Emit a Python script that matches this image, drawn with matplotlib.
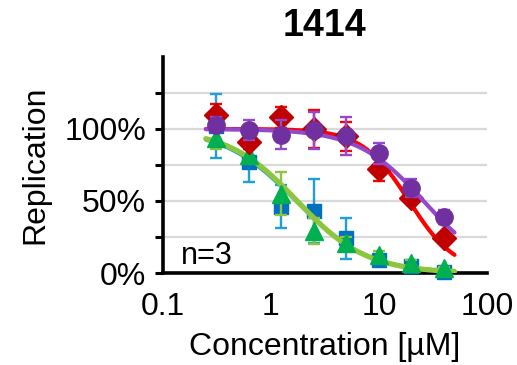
import matplotlib
matplotlib.use("Agg")
import matplotlib.pyplot as plt
import numpy as np
from matplotlib.ticker import FuncFormatter

plt.rcParams['font.family'] = ['Liberation Sans', 'DejaVu Sans']

conc = np.array([0.3125, 0.625, 1.25, 2.5, 5, 10, 20, 40])

blue_y = [102, 77, 46, 43, 24, 9, 5, 1]
blue_err = [22, 14, 15, 22, 14, 3, 2, 1]
green_y = [94, 82, 55, 29, 21, 12.5, 7, 3.5]
green_err = [8, 5, 15, 9, 4, 3, 2, 1]
red_y = [110, 91, 108, 100, 95, 72, 52, 24]
red_err = [7, 5, 7, 13, 10, 8, 4, 3]
purple_y = [103, 99, 96, 99, 95, 83, 59, 39]
purple_err = [5, 7, 10, 13, 13, 7, 6, 5]

# fitted dose-response parameters (top, bottom, IC50, hill)
fits = {
    'blue': (100, 0, 1.7, 1.3),
    'green': (100, 0, 1.75, 1.35),
    'red': (100, 0, 19, 2.0),
    'purple': (100, 0, 25.8, 1.42),
}

series = [
    ('blue', blue_y, blue_err, 's', '#0070C0', '#1E9FD8', 10.5, 2.5),
    ('green', green_y, green_err, '^', '#00B050', '#8CC63F', 13.5, 3.8),
    ('red', red_y, red_err, 'D', '#C00000', '#FF0000', 12, 3),
    ('purple', purple_y, purple_err, 'o', '#7030A0', '#9448CC', 12.5, 3),
]

fig = plt.figure(figsize=(5.17, 3.65), dpi=100)
ax = fig.add_axes([0.315, 0.252, 0.627, 0.592])

xfit = np.logspace(np.log10(0.25), np.log10(50), 200)
z = 3
for name, y, err, mk, mcol, lcol, ms, lw in series:
    top, bot, ic50, hill = fits[name]
    yfit = bot + (top - bot) / (1 + (xfit / ic50) ** hill)
    ax.errorbar(conc, y, yerr=err, fmt='none', ecolor=lcol, elinewidth=1.7,
                capsize=4, capthick=1.7, zorder=z)
    ax.plot(xfit, yfit, color=lcol, lw=lw, zorder=z + 1, solid_capstyle='round')
    ax.plot(conc, y, mk, color=mcol, ms=ms, mec=mcol, zorder=z + 2, clip_on=False)
    z += 3

ax.set_xscale('log')
ax.set_xlim(0.1, 100)
ax.set_ylim(0, 150)

ax.set_xticks([0.1, 1, 10, 100])
ax.set_xticklabels(['0.1', '1', '10', '100'])
ax.set_xticks([0.1, 10], minor=True)
ax.tick_params(axis='x', which='major', length=0, labelsize=23, pad=14)
ax.tick_params(axis='x', which='minor', length=5, width=2.2, direction='out')

ax.set_yticks([0, 50, 100])
ax.set_yticks([25, 75, 125], minor=True)
ax.yaxis.set_major_formatter(FuncFormatter(lambda v, p: f"{v:.0f}%"))
ax.tick_params(axis='y', which='both', length=6, width=2.2, direction='out')
ax.tick_params(axis='y', which='major', labelsize=23, pad=6)

ax.grid(True, axis='y', which='both', color='#d9d9d9', lw=1.6, zorder=0)
ax.grid(True, axis='x', which='minor', color='#d9d9d9', lw=1.6, zorder=0)
ax.grid(False, axis='x', which='major')
ax.set_axisbelow(True)

for s in ['top', 'right']:
    ax.spines[s].set_visible(False)
for s in ['left', 'bottom']:
    ax.spines[s].set_linewidth(2.6)

ax.set_xlabel('Concentration [µM]', fontsize=23, labelpad=7)
ax.set_ylabel('Replication', fontsize=23, labelpad=10)
ax.set_title('1414', fontsize=27, fontweight='bold', pad=15)
ax.text(0.055, 0.04, 'n=3', transform=ax.transAxes, fontsize=22, zorder=30)

fig.savefig('out.png', dpi=100)
